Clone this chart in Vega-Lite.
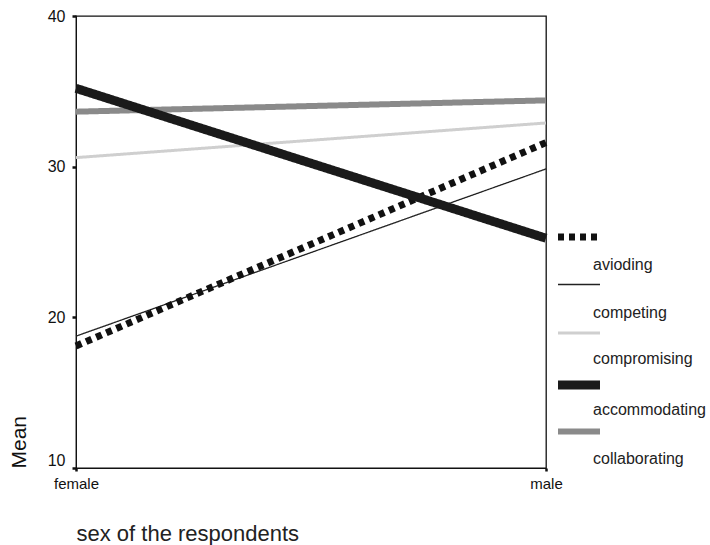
{
  "$schema": "https://vega.github.io/schema/vega-lite/v6.json",
  "width": 470,
  "height": 452,
  "autosize": "none",
  "padding": {"left": 76, "top": 16, "right": 164, "bottom": 77},
  "background": "white",
  "config": {
    "font": "Liberation Sans",
    "view": {"stroke": "#111", "strokeWidth": 1.3},
    "axis": {"domainColor": "#111", "tickColor": "#111", "labelColor": "#111", "titleColor": "#111", "titleFontWeight": "normal", "grid": false}
  },
  "data": {
    "values": [
      {"style": "collaborating", "sex": "female", "mean": 33.65},
      {"style": "collaborating", "sex": "male", "mean": 34.4},
      {"style": "compromising", "sex": "female", "mean": 30.6},
      {"style": "compromising", "sex": "male", "mean": 32.9},
      {"style": "competing", "sex": "female", "mean": 18.75},
      {"style": "competing", "sex": "male", "mean": 29.85},
      {"style": "avioding", "sex": "female", "mean": 18.1},
      {"style": "avioding", "sex": "male", "mean": 31.6},
      {"style": "accommodating", "sex": "female", "mean": 35.2},
      {"style": "accommodating", "sex": "male", "mean": 25.25}
    ]
  },
  "mark": {"type": "line", "strokeCap": "butt"},
  "encoding": {
    "x": {
      "field": "sex", "type": "nominal",
      "scale": {"type": "point", "domain": ["female", "male"], "padding": 0},
      "axis": {"title": "sex of the respondents", "labelAngle": 0, "labelFontSize": 15, "labelPadding": 5, "tickSize": 3, "tickWidth": 2.5, "titleFontSize": 22, "titleAnchor": "start", "titlePadding": 32, "titleColor": "#222"}
    },
    "y": {
      "field": "mean", "type": "quantitative",
      "scale": {"domain": [10, 40], "nice": false, "zero": false},
      "axis": {"title": "Mean", "values": [10, 20, 30, 40], "labelFontSize": 16, "labelPadding": 7,
        "labelBaseline": {"condition": {"test": "datum.value == 10", "value": "bottom"}, "value": "middle"},
        "tickSize": 4, "tickWidth": 2.5, "titleFontSize": 21, "titleAnchor": "start", "titlePadding": 18}
    },
    "color": {
      "field": "style", "type": "nominal",
      "scale": {"domain": ["avioding", "competing", "compromising", "accommodating", "collaborating"], "range": ["#111111", "#222222", "#cfcfcf", "#1a1a1a", "#8a8a8a"]},
      "legend": {
        "title": null, "orient": "none", "legendX": 488, "legendY": 207, "padding": 0,
        "symbolType": "M-2,0H2", "symbolSize": 441, "labelFontSize": 16, "labelColor": "#222",
        "labelOffset": -1, "rowPadding": 0, "labelLimit": 300,
        "encode": {"labels": {"update": {"dy": {"signal": "datum.value === 'compromising' ? 26 : datum.value === 'accommodating' ? 25 : datum.value === 'collaborating' ? 27 : 28"}}}}
      }
    },
    "strokeDash": {
      "field": "style", "type": "nominal",
      "scale": {"domain": ["avioding", "competing", "compromising", "accommodating", "collaborating"], "range": [[6, 5], [1, 0], [1, 0], [1, 0], [1, 0]]}
    },
    "strokeWidth": {
      "field": "style", "type": "nominal",
      "scale": {"type": "ordinal", "domain": ["avioding", "competing", "compromising", "accommodating", "collaborating"], "range": [7, 1.3, 3, 9, 6]}
    }
  }
}
